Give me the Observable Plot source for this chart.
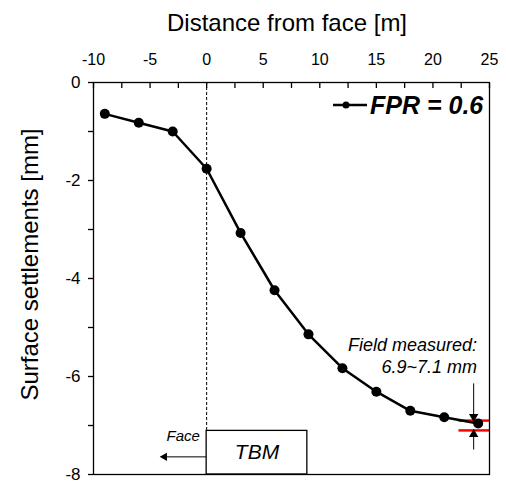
<!DOCTYPE html>
<html>
<head>
<meta charset="utf-8">
<script src="https://cdn.jsdelivr.net/npm/d3@7"></script>
<script src="https://cdn.jsdelivr.net/npm/@observablehq/plot@0.6"></script>
<style>
  html, body { margin: 0; padding: 0; background: #fff; }
  #chart { position: relative; width: 506px; height: 481px; font-family: "Liberation Sans", Arial, sans-serif; }
  #legend { position: absolute; left: 333px; top: 90px; display: flex; align-items: center; font-weight: bold; font-style: italic; font-size: 25px; line-height: 30px; color: #000; }
</style>
</head>
<body>
<div id="chart"></div>
<script>
// Data
const distance = [-9, -6, -3, 0, 3, 6, 9, 12, 15, 18, 21, 24];
const settlement = [-0.64, -0.82, -1.0, -1.76, -3.07, -4.24, -5.14, -5.83, -6.31, -6.70, -6.83, -6.96];
const seriesName = "FPR = 0.6";
const xMajorTicks = [-10, -5, 0, 5, 10, 15, 20, 25];
const xAllTicks = [-10, -7.5, -5, -2.5, 0, 2.5, 5, 7.5, 10, 12.5, 15, 17.5, 20, 22.5, 25];
const yAllTicks = [0, -1, -2, -3, -4, -5, -6, -7, -8];
const yMajorTicks = [0, -2, -4, -6, -8];
const fieldMeasured = [-6.9, -7.1];
const fieldRange = [22.3, 25];
const arrowX = 23.6;
const arrowFrom = [-6.15, -7.5];
const tbm = {x1: 0, x2: 8.9, y1: -8, y2: -7.11};
const faceArrow = {x1: 0, x2: -3.9, y: -7.64};
const annotation = ["Field measured:", "6.9~7.1 mm"];
const xLabel = "Distance from face [m]";
const yLabel = "Surface settlements [mm]";

const data = distance.map((d, i) => ({x: d, y: settlement[i]}));

const font = "Liberation Sans, Arial, sans-serif";

const chart = Plot.plot({
  width: 506,
  height: 481,
  marginLeft: 93,
  marginRight: 17,
  marginTop: 82,
  marginBottom: 7,
  style: {fontFamily: font, background: "#fff", color: "#000", overflow: "visible"},
  x: {domain: [-10, 25]},
  y: {domain: [-8, 0]},
  marks: [
    // dashed face line
    Plot.ruleX([0], {y1: 0, y2: tbm.y2, stroke: "#000", strokeWidth: 1, strokeDasharray: "3,2"}),
    // TBM box
    Plot.rect([tbm], {x1: "x1", x2: "x2", y1: "y1", y2: "y2", fill: "#fff", stroke: "#000", strokeWidth: 1.3}),
    Plot.text([tbm], {x: d => (d.x1 + d.x2) / 2, y: d => (d.y1 + d.y2) / 2, text: () => "TBM", fontSize: 21, fontStyle: "italic", fill: "#000"}),
    Plot.text([faceArrow], {x: d => d.x1 - 0.6, y: -7.22, text: () => "Face", textAnchor: "end", fontSize: 15, fontStyle: "italic", fill: "#000"}),
    Plot.ruleY([faceArrow], {y: "y", x1: "x1", x2: "x2", stroke: "#000", strokeWidth: 1}),
    Plot.dot([faceArrow], {x: "x2", y: "y", symbol: "triangle2", r: 4, rotate: -90, fill: "#000", dx: 2}),
    // red field lines
    Plot.ruleY(fieldMeasured, {x1: fieldRange[0], x2: fieldRange[1], stroke: "#ff0000", strokeWidth: 2.5}),
    // arrows
    Plot.ruleX([0, 1], {x: arrowX, y1: i => arrowFrom[i], y2: i => fieldMeasured[i], stroke: "#000", strokeWidth: 1}),
    Plot.dot([0], {x: arrowX, y: fieldMeasured[0], symbol: "triangle2", r: 4.5, rotate: 180, fill: "#000", dy: -4}),
    Plot.dot([1], {x: arrowX, y: fieldMeasured[1], symbol: "triangle2", r: 4.5, rotate: 0, fill: "#000", dy: 4}),
    // series
    Plot.line(data, {x: "x", y: "y", stroke: "#000", strokeWidth: 2.5}),
    Plot.dot(data, {x: "x", y: "y", r: 5, fill: "#000"}),
    // annotation
    Plot.text(annotation, {x: 23.9, y: (d, i) => [-5.37, -5.81][i], text: d => d, textAnchor: "end", fontSize: 18, fontStyle: "italic", fill: "#000"}),
    // frame
    Plot.frame({stroke: "#000", strokeWidth: 1.3}),
    // axes
    Plot.axisX({anchor: "top", ticks: xAllTicks, tickSize: -5, tickFormat: () => "", label: null, strokeWidth: 1.3}),
    Plot.axisX({anchor: "top", ticks: xMajorTicks, tickSize: 0, tickPadding: 18, tickFormat: d => String(d), fontSize: 16, label: null}),
    Plot.axisY({anchor: "left", ticks: yAllTicks, tickSize: 5, tickFormat: () => "", label: null, strokeWidth: 1.3}),
    Plot.axisY({anchor: "left", ticks: yMajorTicks, tickSize: 0, tickPadding: 13, tickFormat: d => String(d), fontSize: 17, label: null}),
    // axis titles
    Plot.text([xLabel], {frameAnchor: "top", dy: -69, dx: -4.5, text: d => d, fontSize: 24, fill: "#000"}),
    Plot.text([yLabel], {frameAnchor: "left", textAnchor: "middle", lineAnchor: "middle", rotate: -90, dx: -63, dy: -14, text: d => d, fontSize: 24, fill: "#000"})
  ]
});

const container = document.getElementById("chart");
container.appendChild(chart);

// legend
const legend = document.createElement("div");
legend.id = "legend";
legend.innerHTML = `<svg width="36" height="12" style="margin-right:1px"><line x1="0" y1="6" x2="34" y2="6" stroke="#000" stroke-width="2.5"/><circle cx="13" cy="6" r="3.5" fill="#000"/></svg><span>${seriesName}</span>`;
container.appendChild(legend);
</script>
</body>
</html>
